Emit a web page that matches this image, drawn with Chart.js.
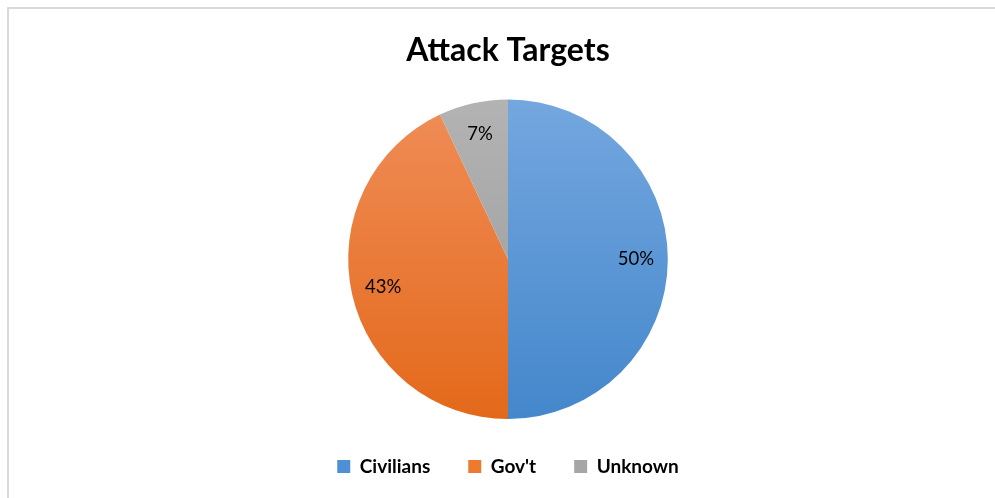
<!DOCTYPE html>
<html>
<head>
<meta charset="utf-8">
<script src="https://cdn.jsdelivr.net/npm/chart.js@4.4.1/dist/chart.umd.min.js"></script>
<style>
  html, body { margin: 0; padding: 0; background: #fff; overflow: hidden; width: 995px; height: 498px; }
  #frame { position: absolute; left: 7px; top: 7px; width: 998px; height: 500px; border: 2px solid #d9d9d9; background: #fff; }
  #wrap { position: absolute; left: 0; top: 0; width: 998px; height: 489px; }
</style>
</head>
<body>
<div id="frame"><div id="wrap"><canvas id="c"></canvas></div></div>
<script>
const chartTitle = "Attack Targets";
const categories = ["Civilians", "Gov't", "Unknown"];
const shares = [50, 43, 7];
const colorTop = ["#74a7df", "#f08d58", "#b3b3b3"];
const colorBottom = ["#4487cb", "#e3691a", "#999999"];
const legendColor = ["#4f8fd3", "#ee7a30", "#a6a6a6"];

function fillFor(ctx) {
  const chart = ctx.chart;
  const area = chart.chartArea;
  const i = ctx.dataIndex;
  if (!area) return legendColor[i];
  const cy = (area.top + area.bottom) / 2;
  const r = Math.min(area.right - area.left, area.bottom - area.top) / 2;
  const g = chart.ctx.createLinearGradient(0, cy - r, 0, cy + r);
  g.addColorStop(0, colorTop[i]);
  g.addColorStop(1, colorBottom[i]);
  return g;
}

const pieLabels = {
  id: 'pieLabels',
  afterDatasetsDraw(chart) {
    const c = chart.ctx;
    const meta = chart.getDatasetMeta(0);
    const total = shares.reduce((a, b) => a + b, 0);
    c.save();
    c.font = '18.5px Lato';
    c.fillStyle = '#000000';
    c.textAlign = 'center';
    c.textBaseline = 'middle';
    meta.data.forEach((arc, i) => {
      const mid = (arc.startAngle + arc.endAngle) / 2;
      const rr = arc.outerRadius * 0.8;
      const x = arc.x + Math.cos(mid) * rr;
      const y = arc.y + Math.sin(mid) * rr;
      c.fillText(Math.round(shares[i] / total * 100) + '%', x, y);
    });
    c.restore();
  }
};

new Chart(document.getElementById('c'), {
  type: 'pie',
  data: {
    labels: categories,
    datasets: [{
      data: shares,
      backgroundColor: fillFor,
      borderColor: '#ffffff',
      borderWidth: 0,
      hoverOffset: 0
    }]
  },
  options: {
    responsive: true,
    maintainAspectRatio: false,
    animation: false,
    layout: { padding: { top: 0, bottom: 12, left: 0, right: 0 } },
    plugins: {
      title: {
        display: true,
        text: chartTitle,
        color: '#000000',
        font: { family: 'Lato', size: 32, weight: 'bold' },
        padding: { top: 22, bottom: 30 }
      },
      legend: {
        display: true,
        position: 'bottom',
        labels: {
          color: '#595959',
          font: { family: 'Lato', size: 19, weight: 'bold' },
          boxWidth: 13,
          boxHeight: 13,
          padding: 38,
          generateLabels(chart) {
            return categories.map((name, i) => ({
              text: name,
              fillStyle: legendColor[i],
              strokeStyle: legendColor[i],
              lineWidth: 0,
              index: i,
              hidden: false
            }));
          }
        }
      },
      tooltip: { enabled: false }
    }
  },
  plugins: [pieLabels]
});
</script>
</body>
</html>
